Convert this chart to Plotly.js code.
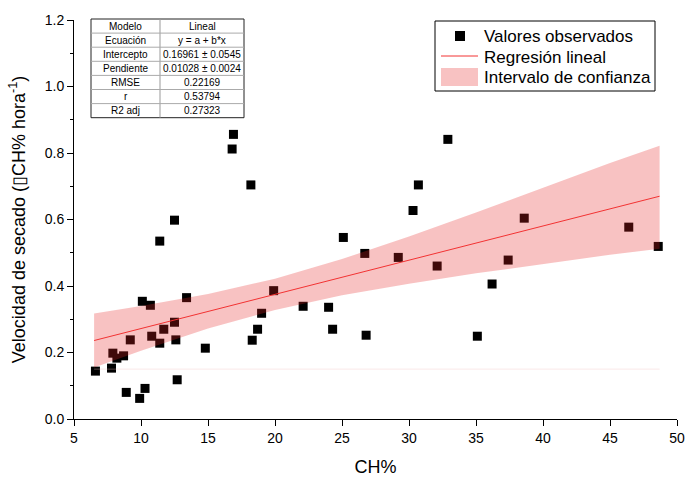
<!DOCTYPE html>
<html>
<head>
<meta charset="utf-8">
<script src="https://cdn.plot.ly/plotly-3.0.1.min.js"></script>
<style>html,body{margin:0;padding:0;background:#fff;}#chart{width:686px;height:478px;}</style>
</head>
<body>
<div id="chart"></div>
<script>
const obsX = [6.6, 7.8, 7.9, 8.2, 8.7, 8.9, 9.2, 9.9, 10.3, 10.1, 10.7, 10.8, 11.4, 11.4, 11.7, 12.5, 12.5, 12.6, 12.7, 13.4, 14.8, 16.8, 16.9, 18.2, 19.9, 19.0, 18.7, 18.3, 22.1, 24.0, 24.3, 25.1, 26.7, 26.8, 29.2, 30.3, 30.7, 32.1, 32.9, 36.2, 35.1, 37.4, 38.6, 46.4, 48.6];
const obsY = [0.144, 0.153, 0.198, 0.183, 0.190, 0.080, 0.238, 0.062, 0.092, 0.354, 0.342, 0.249, 0.228, 0.535, 0.270, 0.291, 0.598, 0.238, 0.118, 0.365, 0.213, 0.812, 0.856, 0.704, 0.386, 0.318, 0.270, 0.237, 0.339, 0.336, 0.270, 0.546, 0.498, 0.252, 0.486, 0.627, 0.704, 0.460, 0.841, 0.406, 0.249, 0.478, 0.604, 0.577, 0.519];

// Regression line end points
const regX = [6.5, 48.7];
const regY = [0.236, 0.670];

// Confidence band (read values)
const bandX = [6.5, 10, 15, 20, 25, 30, 35, 40, 45, 48.7];
const bandUpper = [0.317, 0.340, 0.376, 0.422, 0.481, 0.549, 0.621, 0.695, 0.770, 0.822];
const bandLower = [0.155, 0.205, 0.272, 0.328, 0.372, 0.407, 0.438, 0.467, 0.494, 0.512];

// Faint baseline seen in the picture
const baseX = [6.5, 48.7];
const baseY = [0.15, 0.15];

// Table content
const tableLabels = ["Modelo", "Ecuación", "Intercepto", "Pendiente", "RMSE", "r", "R2 adj"];
const tableValues = ["Lineal", "y = a + b*x", "0.16961 ± 0.0545", "0.01028 ± 0.0024", "0.22169", "0.53794", "0.27323"];

// Legend entries
const legendNames = ["Valores observados", "Regresión lineal", "Intervalo de confianza"];

const FONT = "Liberation Sans, Arial, sans-serif";
const BAND_FILL = 'rgba(230,36,36,0.28)';
const LINE_COL = '#f23232';

const traces = [
  {x: obsX, y: obsY, type: 'scatter', mode: 'markers', name: legendNames[0], showlegend: false,
   marker: {symbol: 'square', size: 9, color: '#000'}},
  {x: baseX, y: baseY, type: 'scatter', mode: 'lines', showlegend: false, hoverinfo: 'skip',
   line: {color: 'rgba(240,190,190,0.35)', width: 1}},
  {x: bandX.concat(bandX.slice().reverse()), y: bandUpper.concat(bandLower.slice().reverse()),
   type: 'scatter', mode: 'lines', fill: 'toself', fillcolor: BAND_FILL, showlegend: false,
   line: {width: 0, color: 'rgba(0,0,0,0)'}, name: legendNames[2]},
  {x: regX, y: regY, type: 'scatter', mode: 'lines', name: legendNames[1], showlegend: false,
   line: {color: LINE_COL, width: 1}}
];

// Paper-coordinate helpers
const L = 74, R = 677, T = 20, B = 419;
const px = v => (v - L) / (R - L);
const py = v => (B - v) / (B - T);
const shapes = [];
const annotations = [];

// Table
const tLeft = 91, tRight = 244, tMid = 160, tTop = 19, rowH = 14.1;
const tBottom = tTop + rowH * tableLabels.length;
shapes.push({type: 'rect', xref: 'paper', yref: 'paper', x0: px(tLeft), x1: px(tRight), y0: py(tBottom), y1: py(tTop),
  line: {color: '#222', width: 1}, fillcolor: '#fff', layer: 'above'});
shapes.push({type: 'line', xref: 'paper', yref: 'paper', x0: px(tMid), x1: px(tMid), y0: py(tBottom), y1: py(tTop),
  line: {color: '#999', width: 1}, layer: 'above'});
for (let i = 1; i < tableLabels.length; i++) {
  const yy = tTop + rowH * i;
  shapes.push({type: 'line', xref: 'paper', yref: 'paper', x0: px(tLeft), x1: px(tRight), y0: py(yy), y1: py(yy),
    line: {color: '#aaa', width: 1}, layer: 'above'});
}
for (let i = 0; i < tableLabels.length; i++) {
  const yc = tTop + rowH * (i + 0.5);
  annotations.push({xref: 'paper', yref: 'paper', x: px((tLeft + tMid) / 2), y: py(yc), text: tableLabels[i],
    showarrow: false, xanchor: 'center', yanchor: 'middle', font: {family: FONT, size: 10, color: '#000'}});
  annotations.push({xref: 'paper', yref: 'paper', x: px((tMid + tRight) / 2), y: py(yc), text: tableValues[i],
    showarrow: false, xanchor: 'center', yanchor: 'middle', font: {family: FONT, size: 10, color: '#000'}});
}

// Legend (drawn manually)
shapes.push({type: 'rect', xref: 'paper', yref: 'paper', x0: px(435), x1: px(655), y0: py(91), y1: py(21),
  line: {color: '#000', width: 1}, fillcolor: '#fff', layer: 'above'});
shapes.push({type: 'rect', xref: 'paper', yref: 'paper', x0: px(455), x1: px(465), y0: py(41), y1: py(31),
  line: {width: 0}, fillcolor: '#000', layer: 'above'});
shapes.push({type: 'line', xref: 'paper', yref: 'paper', x0: px(441), x1: px(478), y0: py(56), y1: py(56),
  line: {color: LINE_COL, width: 1}, layer: 'above'});
shapes.push({type: 'rect', xref: 'paper', yref: 'paper', x0: px(441), x1: px(478), y0: py(86), y1: py(68),
  line: {width: 0}, fillcolor: 'rgb(248,194,194)', layer: 'above'});
const legY = [36, 57, 77];
for (let i = 0; i < legendNames.length; i++) {
  annotations.push({xref: 'paper', yref: 'paper', x: px(482), y: py(legY[i]), text: legendNames[i],
    showarrow: false, xanchor: 'left', yanchor: 'middle', font: {family: FONT, size: 17, color: '#000'}});
}

const layout = {
  width: 686, height: 478,
  margin: {l: L, r: 686 - R, t: T, b: 478 - B},
  paper_bgcolor: '#fff', plot_bgcolor: '#fff',
  font: {family: FONT, color: '#000', size: 13},
  showlegend: false,
  xaxis: {range: [5, 50], dtick: 5, tick0: 5, ticks: 'outside', ticklen: 6, tickwidth: 1, tickcolor: '#000',
    showline: true, linecolor: '#000', linewidth: 1, showgrid: false, zeroline: false, mirror: false,
    tickfont: {family: FONT, size: 14}, title: {text: 'CH%', font: {family: FONT, size: 18}, standoff: 15}},
  yaxis: {range: [0, 1.2], dtick: 0.2, tick0: 0, tickformat: '.1f', ticks: 'outside', ticklen: 6, tickwidth: 1, tickcolor: '#000',
    minor: {dtick: 0.1, ticks: 'outside', ticklen: 3, tickcolor: '#000', showgrid: false},
    showline: true, linecolor: '#000', linewidth: 1, showgrid: false, zeroline: false, mirror: false,
    tickfont: {family: FONT, size: 14}, title: {text: 'Velocidad de secado (▯CH% hora<sup>-1</sup>)', font: {family: FONT, size: 18}, standoff: 14}},
  shapes: shapes,
  annotations: annotations
};

Plotly.newPlot('chart', traces, layout, {displayModeBar: false, staticPlot: true});
</script>
</body>
</html>
